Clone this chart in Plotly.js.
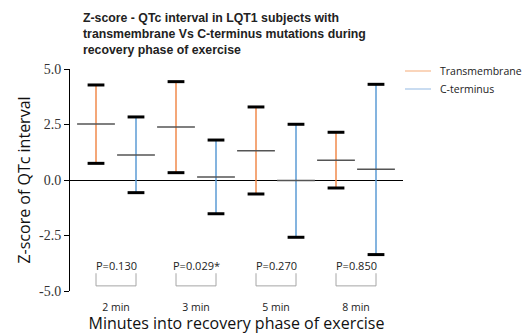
<!DOCTYPE html>
<html><head><meta charset="utf-8">
<script src="https://cdn.plot.ly/plotly-3.0.1.min.js"></script>
<style>html,body{margin:0;padding:0;background:#fff}</style>
</head><body><div id="chart" style="width:522px;height:334px"></div>
<script>
const categories = ["2 min", "3 min", "5 min", "8 min"];
const pValues = ["P=0.130", "P=0.029*", "P=0.270", "P=0.850"];
const seriesNames = ["Transmembrane", "C-terminus"];
const tmMean = [2.52, 2.39, 1.32, 0.89];
const tmHigh = [4.28, 4.43, 3.29, 2.15];
const tmLow  = [0.75, 0.33, -0.63, -0.36];
const ctMean = [1.13, 0.14, -0.02, 0.48];
const ctHigh = [2.84, 1.80, 2.51, 4.31];
const ctLow  = [-0.57, -1.52, -2.58, -3.36];
const yTicks = [-5, -2.5, 0, 2.5, 5];
const yTickText = ["-5.0", "-2.5", "0.0", "2.5", "5.0"];

const off = 0.25;
const idx = categories.map((_, i) => i);
const xT = idx.map(i => i - off), xC = idx.map(i => i + off);
const orange = "#F08A4B", blue = "#5B9BD5";
const legendColors = ["#F9C7A5", "#B7D0EC"];

function series(x, mean, hi, lo, color) {
  return [
    {x: x, y: mean, type: "scatter", mode: "markers", showlegend: false, hoverinfo: "skip",
     marker: {symbol: "line-ew", size: 27, color: "rgba(0,0,0,0)", line: {color: "#555", width: 1.5}},
     error_y: {type: "data", symmetric: false, array: hi.map((h, i) => h - mean[i]),
               arrayminus: lo.map((l, i) => mean[i] - l), color: color, thickness: 1.5, width: 0}},
    {x: x.concat(x), y: hi.concat(lo), type: "scatter", mode: "markers", showlegend: false, hoverinfo: "skip",
     marker: {symbol: "line-ew", size: 12, color: "rgba(0,0,0,0)", line: {color: "#000", width: 3}}}
  ];
}

const traces = [].concat(series(xT, tmMean, tmHigh, tmLow, orange), series(xC, ctMean, ctHigh, ctLow, blue));

// p-value brackets
const brTop = -4.2, brBot = -4.77, pY = -3.86;
const bx = [], by = [];
idx.forEach(i => { bx.push(xT[i], xT[i], xC[i], xC[i], null); by.push(brTop, brBot, brBot, brTop, null); });
traces.push({x: bx, y: by, type: "scatter", mode: "lines", showlegend: false, hoverinfo: "skip",
  line: {color: "#A6A6A6", width: 1}});

const annotations = idx.map(i => ({x: i, y: pY, xref: "x", yref: "y", text: pValues[i], showarrow: false,
  font: {family: "Open Sans, sans-serif", size: 11, color: "#222"}}));

// title as annotation
annotations.push({xref: "paper", yref: "paper", x: (81 - 70) / 333, y: (291 - 9) / 222, xanchor: "left", yanchor: "top",
  align: "left", showarrow: false,
  text: "<b>Z-score - QTc interval in LQT1 subjects with<br>transmembrane Vs C-terminus mutations during<br>recovery phase of exercise</b>",
  font: {family: "Liberation Sans, Arial, sans-serif", size: 12.3, color: "#222"}});

// manual legend
const shapes = [];
const legY = [71, 89];
seriesNames.forEach((n, k) => {
  const py = (291 - legY[k]) / 222;
  shapes.push({type: "line", xref: "paper", yref: "paper", x0: (405 - 70) / 333, x1: (431 - 70) / 333, y0: py, y1: py,
    line: {color: legendColors[k], width: 1.5}});
  annotations.push({xref: "paper", yref: "paper", x: (438 - 70) / 333, y: py, xanchor: "left", yanchor: "middle",
    showarrow: false, text: n, font: {family: "Open Sans, sans-serif", size: 10.5, color: "#222"}});
});

const layout = {
  width: 522, height: 334,
  margin: {l: 70, r: 119, t: 69, b: 43},
  paper_bgcolor: "#fff", plot_bgcolor: "#fff",
  showlegend: false,
  xaxis: {range: [-0.575, 3.5875], tickmode: "array", tickvals: idx, ticktext: categories,
    showgrid: false, zeroline: false, showline: false, ticks: "", ticklabelstandoff: 8,
    tickfont: {family: "Open Sans, sans-serif", size: 10.5, color: "#222"},
    title: {text: "Minutes into recovery phase of exercise", standoff: 4,
      font: {family: "Open Sans, sans-serif", size: 16, color: "#111"}}},
  yaxis: {range: [-5, 5], tickmode: "array", tickvals: yTicks, ticktext: yTickText,
    showgrid: false, zeroline: true, zerolinecolor: "#000", zerolinewidth: 1,
    showline: true, linecolor: "#000", linewidth: 1, ticks: "outside", ticklen: 5, tickcolor: "#000",
    tickfont: {family: "Liberation Serif, serif", size: 14, color: "#333"},
    title: {text: "Z-score of QTc interval", standoff: 4,
      font: {family: "Open Sans, sans-serif", size: 16, color: "#111"}}},
  shapes: shapes,
  annotations: annotations
};
Plotly.newPlot("chart", traces, layout, {displayModeBar: false, staticPlot: true});
</script></body></html>
